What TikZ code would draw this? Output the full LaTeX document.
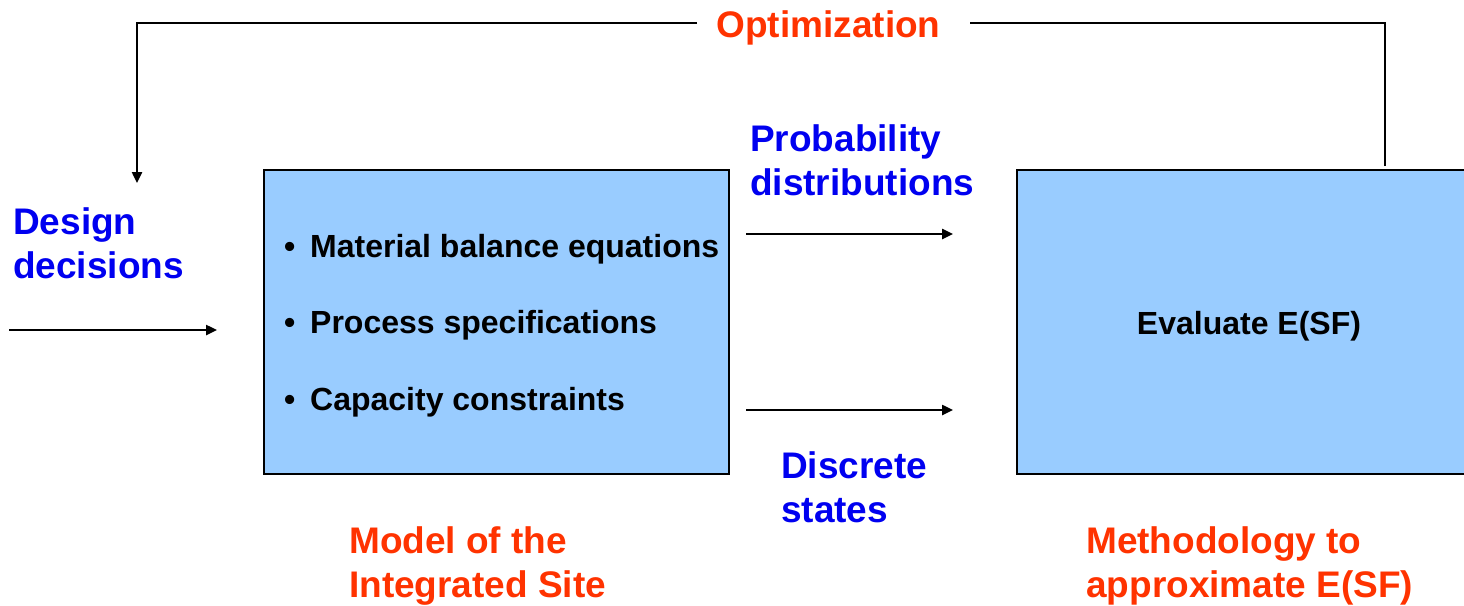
\documentclass[tikz,border=0pt]{standalone}
\usepackage{fontspec}
\setmainfont{Liberation Sans}
\usetikzlibrary{arrows.meta}
\definecolor{hiblue}{RGB}{0,0,240}
\definecolor{hired}{RGB}{255,51,0}
\definecolor{boxfill}{RGB}{153,204,255}
\begin{document}
\begin{tikzpicture}[x=1pt,y=-1pt,
  big/.style={font=\bfseries\fontsize{37}{43.5}\selectfont, inner sep=0pt, align=left, anchor=base west},
  bluelbl/.style={big, text=hiblue},
  redlbl/.style={big, text=hired},
  item/.style={font=\bfseries\fontsize{32}{38}\selectfont, inner sep=0pt, anchor=base west},
  blk/.style={draw=black, line width=2.5pt, fill=boxfill, inner sep=0pt},
  conn/.style={line width=2.4pt, -{Triangle[length=11pt,width=10pt]}},
  plain/.style={line width=2.4pt}]
\clip (0,0) rectangle (1464,605);
\fill[white] (0,0) rectangle (1464,605);

% boxes
\node[blk, minimum width=465pt, minimum height=304pt] (model) at (496.5,322) {};
\node[blk, minimum width=464pt, minimum height=304pt] (evalbox) at (1249,322) {};
\node[item, anchor=base] (evaltxt) at (1249,334) {Evaluate E(SF)};

% items in model box
\node[item] (b1) at (284,257) {\textbullet};
\node[item] (i1) at (310,257) {Material balance equations};
\node[item] (b2) at (284,333) {\textbullet};
\node[item] (i2) at (310,333) {Process specifications};
\node[item] (b3) at (284,410) {\textbullet};
\node[item] (i3) at (310,410) {Capacity constraints};

% labels (base anchor = baseline of last line)
\node[redlbl, anchor=base] (opt) at (828.5,37) {Optimization};
\node[bluelbl] (design) at (13,278) {Design\\decisions};
\node[bluelbl] (prob) at (750,195) {Probability\\distributions};
\node[bluelbl] (disc) at (781,522) {Discrete\\states};
\node[redlbl] (modellbl) at (349,597) {Model of the\\Integrated Site};
\node[redlbl] (methlbl) at (1086,597) {Methodology to\\approximate E(SF)};

% connector coordinates
\coordinate (inS) at (9,330);
\coordinate (inE) at (217,330);
\coordinate (pS) at (746,234);
\coordinate (pE) at (953,234);
\coordinate (dS) at (746,410);
\coordinate (dE) at (953,410);
\coordinate (fbR) at (1385,166);
\coordinate (gapR) at (970,23);
\coordinate (gapL) at (697,23);
\coordinate (fbL) at (137,183);

% connectors
\draw[conn] (inS) -- (inE);
\draw[conn] (pS) -- (pE);
\draw[conn] (dS) -- (dE);
\draw[plain] (fbR) |- (gapR);
\draw[conn] (gapL) -| (fbL);
\end{tikzpicture}
\end{document}
